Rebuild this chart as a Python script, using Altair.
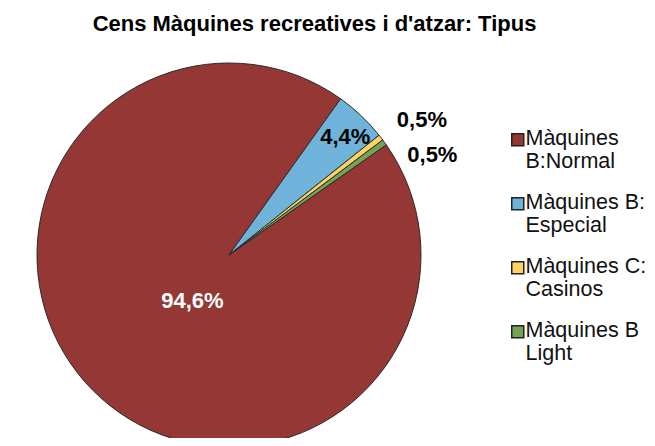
import math
import altair as alt
import pandas as pd

categories = ["Màquines B:Normal", "Màquines B: Especial", "Màquines C: Casinos", "Màquines B Light"]
values = [94.6, 4.4, 0.5, 0.5]
labels = ["94,6%", "4,4%", "0,5%", "0,5%"]
colors = ["#953735", "#6FB3DB", "#FFD265", "#75A353"]

df = pd.DataFrame({"cat": categories, "val": values, "label": labels, "idx": list(range(len(categories)))})

FONT = "Liberation Sans"
start = math.radians(55.0)
cx, cy = 221, 207
R = 192

theta = alt.Theta("val:Q", stack=True, scale=alt.Scale(domain=[0, 100], range=[start, start + 2 * math.pi]))

base = alt.Chart(df).encode(
    theta=theta,
    order=alt.Order("idx:Q"),
    x=alt.value(cx),
    y=alt.value(cy),
)

arcs = base.mark_arc(outerRadius=R, stroke="#2a2a2a", strokeWidth=1).encode(
    color=alt.Color(
        "cat:N",
        scale=alt.Scale(domain=categories, range=colors),
        legend=alt.Legend(
            title=None,
            orient="none",
            legendX=496,
            legendY=86,
            symbolType="M-0.5,-1.83H1.5V0.17H-0.5Z",
            symbolSize=144,
            symbolStrokeColor="#222222",
            symbolStrokeWidth=1.5,
            symbolOpacity=1,
            labelFont=FONT,
            labelFontSize=21.5,
            labelColor="#111111",
            labelLimit=300,
            labelOffset=0,
            labelBaseline="alphabetic",
            labelExpr="[slice(datum.label, 0, lastindexof(datum.label, ' ')), slice(datum.label, lastindexof(datum.label, ' ') + 1)]",
            rowPadding=18,
            padding=0,
        ),
    )
)

txt = dict(font=FONT, fontSize=22, fontWeight="bold", align="center", baseline="middle")


def label_layer(k, radius, color, dx=0, dy=0):
    return base.mark_text(radius=radius, color=color, dx=dx, dy=dy, **txt).encode(
        text=alt.condition(f"datum.idx == {k}", alt.Text("label:N"), alt.value(""))
    )


lab_red = label_layer(0, 60, "white", dx=6, dy=4)
lab_blue = label_layer(1, 166, "black", dx=2, dy=2)
lab_yel = label_layer(2, 235, "black", dx=7, dy=9)
lab_grn = label_layer(3, 235, "black", dx=13, dy=38)

chart = alt.layer(arcs, lab_red, lab_blue, lab_yel, lab_grn).properties(
    width=639,
    height=390,
    padding={"left": 0, "top": 40, "right": 0, "bottom": 0},
    autosize=alt.AutoSizeParams(type="none"),
    title=alt.TitleParams(
        "Cens Màquines recreatives i d'atzar: Tipus",
        font=FONT,
        fontSize=22,
        fontWeight="bold",
        color="black",
        anchor="middle",
        dx=-13,
        dy=-8,
    ),
).configure_view(stroke=None)

chart.save("out.html", embed_options={"renderer": "svg", "actions": False})
